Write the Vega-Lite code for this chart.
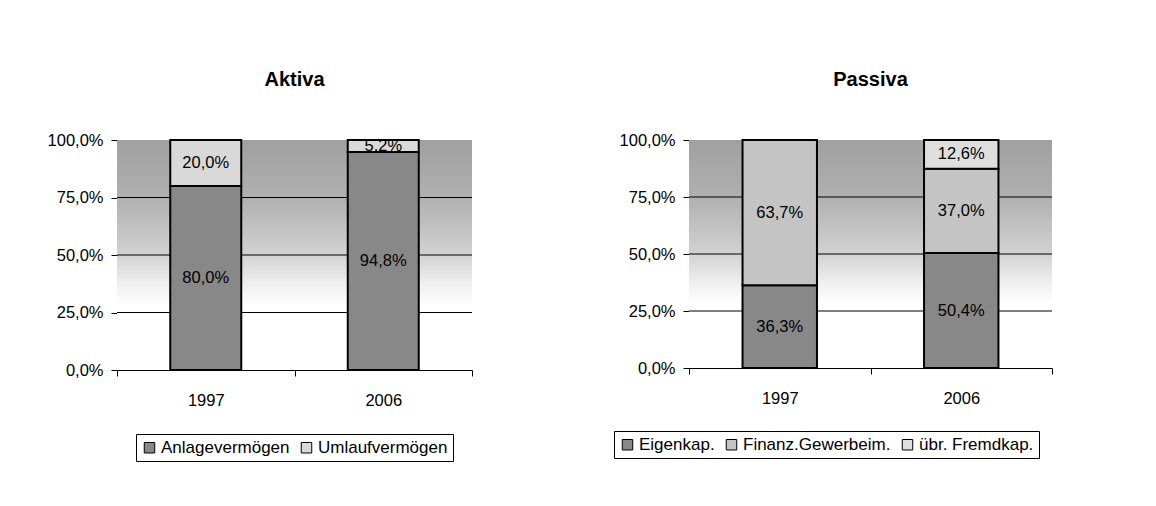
{
  "$schema": "https://vega.github.io/schema/vega-lite/v6.json",
  "background": "white",
  "padding": {"left": 47, "top": 70, "right": 5, "bottom": 5},
  "config": {
    "locale": {"number": {"decimal": ",", "thousands": ".", "grouping": [3], "currency": ["", " €"]}},
    "font": "Liberation Sans",
    "view": {"stroke": null},
    "concat": {"spacing": 140},
    "axis": {"domainColor": "black", "tickColor": "black", "labelColor": "black", "labelFontSize": 16.5, "labelFont": "Liberation Sans", "grid": false, "title": null, "tickSize": 6},
    "axisY": {"labelPadding": 8},
    "legend": {"labelFontSize": 17, "labelColor": "black", "labelFont": "Liberation Sans", "symbolType": "square", "symbolSize": 110, "symbolStrokeColor": "black", "symbolStrokeWidth": 1, "strokeColor": "black", "padding": 5, "direction": "horizontal", "orient": "none", "title": null, "columnPadding": 8, "labelOffset": 3}
  },
  "resolve": {"scale": {"color": "independent"}, "legend": {"color": "independent"}},
  "datasets": {
    "aktiva": [
      {"jahr": "1997", "posten": "Anlagevermögen", "anteil": 0.800, "ord": 1},
      {"jahr": "1997", "posten": "Umlaufvermögen", "anteil": 0.200, "ord": 2},
      {"jahr": "2006", "posten": "Anlagevermögen", "anteil": 0.948, "ord": 1},
      {"jahr": "2006", "posten": "Umlaufvermögen", "anteil": 0.052, "ord": 2}
    ],
    "passiva": [
      {"jahr": "1997", "posten": "Eigenkap.", "anteil": 0.363, "ord": 1},
      {"jahr": "1997", "posten": "Finanz.Gewerbeim.", "anteil": 0.637, "ord": 2},
      {"jahr": "2006", "posten": "Eigenkap.", "anteil": 0.504, "ord": 1},
      {"jahr": "2006", "posten": "Finanz.Gewerbeim.", "anteil": 0.370, "ord": 2},
      {"jahr": "2006", "posten": "übr. Fremdkap.", "anteil": 0.126, "ord": 3}
    ],
    "bg": [{"lo": 0, "hi": 1}],
    "grid": [{"g": 0.25}, {"g": 0.5}, {"g": 0.75}]
  },
  "hconcat": [
    {
      "title": {"text": "Aktiva", "fontSize": 20, "fontWeight": "bold", "offset": 42, "color": "black", "font": "Liberation Sans"},
      "width": 355,
      "height": 230,
      "layer": [
        {
          "data": {"name": "bg"},
          "mark": {"type": "rect", "color": {"gradient": "linear", "x1": 0, "y1": 0, "x2": 0, "y2": 1, "stops": [{"offset": 0, "color": "#a0a0a0"}, {"offset": 0.25, "color": "#b0b0b0"}, {"offset": 0.5, "color": "#d2d2d2"}, {"offset": 0.62, "color": "#eeeeee"}, {"offset": 0.72, "color": "#ffffff"}, {"offset": 1, "color": "#ffffff"}]}},
          "encoding": {
            "x": {"value": 0}, "x2": {"value": "width"},
            "y": {"field": "lo", "type": "quantitative", "scale": {"domain": [0, 1], "nice": false}, "axis": {"format": ".1%", "values": [0, 0.25, 0.5, 0.75, 1]}},
            "y2": {"field": "hi"}
          }
        },
        {
          "data": {"name": "grid"},
          "mark": {"type": "rule", "color": "black", "strokeWidth": 1},
          "encoding": {"y": {"field": "g", "type": "quantitative"}}
        },
        {
          "data": {"name": "aktiva"},
          "mark": {"type": "bar", "stroke": "black", "strokeWidth": 2, "width": {"band": 0.4}},
          "encoding": {
            "x": {"field": "jahr", "type": "nominal", "scale": {"paddingInner": 0, "paddingOuter": 0}, "axis": {"labelAngle": 0, "tickBand": "extent", "labelPadding": 16}},
            "y": {"field": "anteil", "type": "quantitative", "stack": "zero"},
            "order": {"field": "ord"},
            "color": {"field": "posten", "type": "nominal", "scale": {"domain": ["Anlagevermögen", "Umlaufvermögen"], "range": ["#888888", "#d9d9d9"]}, "legend": {"legendX": 19, "legendY": 294}}
          }
        },
        {
          "data": {"name": "aktiva"},
          "transform": [
            {"stack": "anteil", "groupby": ["jahr"], "sort": [{"field": "ord"}], "as": ["v0", "v1"]},
            {"calculate": "(datum.v0 + datum.v1) / 2", "as": "mitte"}
          ],
          "mark": {"type": "text", "fontSize": 16.5, "color": "black", "baseline": "middle"},
          "encoding": {
            "x": {"field": "jahr", "type": "nominal"},
            "y": {"field": "mitte", "type": "quantitative"},
            "text": {"field": "anteil", "type": "quantitative", "format": ".1%"}
          }
        }
      ]
    },
    {
      "title": {"text": "Passiva", "fontSize": 20, "fontWeight": "bold", "offset": 42, "color": "black", "font": "Liberation Sans"},
      "width": 363,
      "height": 228,
      "layer": [
        {
          "data": {"name": "bg"},
          "mark": {"type": "rect", "color": {"gradient": "linear", "x1": 0, "y1": 0, "x2": 0, "y2": 1, "stops": [{"offset": 0, "color": "#a0a0a0"}, {"offset": 0.25, "color": "#b0b0b0"}, {"offset": 0.5, "color": "#d2d2d2"}, {"offset": 0.62, "color": "#eeeeee"}, {"offset": 0.72, "color": "#ffffff"}, {"offset": 1, "color": "#ffffff"}]}},
          "encoding": {
            "x": {"value": 0}, "x2": {"value": "width"},
            "y": {"field": "lo", "type": "quantitative", "scale": {"domain": [0, 1], "nice": false}, "axis": {"format": ".1%", "values": [0, 0.25, 0.5, 0.75, 1]}},
            "y2": {"field": "hi"}
          }
        },
        {
          "data": {"name": "grid"},
          "mark": {"type": "rule", "color": "black", "strokeWidth": 1},
          "encoding": {"y": {"field": "g", "type": "quantitative"}}
        },
        {
          "data": {"name": "passiva"},
          "mark": {"type": "bar", "stroke": "black", "strokeWidth": 2, "width": {"band": 0.41}},
          "encoding": {
            "x": {"field": "jahr", "type": "nominal", "scale": {"paddingInner": 0, "paddingOuter": 0}, "axis": {"labelAngle": 0, "tickBand": "extent", "labelPadding": 16}},
            "y": {"field": "anteil", "type": "quantitative", "stack": "zero"},
            "order": {"field": "ord"},
            "color": {"field": "posten", "type": "nominal", "scale": {"domain": ["Eigenkap.", "Finanz.Gewerbeim.", "übr. Fremdkap."], "range": ["#888888", "#c4c4c4", "#dedede"]}, "legend": {"legendX": -75, "legendY": 291}}
          }
        },
        {
          "data": {"name": "passiva"},
          "transform": [
            {"stack": "anteil", "groupby": ["jahr"], "sort": [{"field": "ord"}], "as": ["v0", "v1"]},
            {"calculate": "(datum.v0 + datum.v1) / 2", "as": "mitte"}
          ],
          "mark": {"type": "text", "fontSize": 16.5, "color": "black", "baseline": "middle"},
          "encoding": {
            "x": {"field": "jahr", "type": "nominal"},
            "y": {"field": "mitte", "type": "quantitative"},
            "text": {"field": "anteil", "type": "quantitative", "format": ".1%"}
          }
        }
      ]
    }
  ]
}
